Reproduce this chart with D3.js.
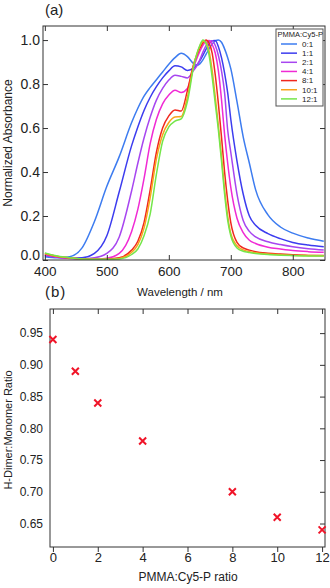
<head>
	<meta charset="utf-8">
	<title>Cy5-P absorbance</title>
	<script src="https://d3js.org/d3.v7.min.js"></script>
	<style>
		body { margin: 0; background: #fff; }
		text { font-family: "Liberation Sans", Arial, sans-serif; fill: #222; }
	</style>
</head>
<body>
	<script type="text/javascript">
	// panel (a): normalized absorbance spectra
	var wavelengths = [400,420,440,460,480,500,520,540,550,560,570,580,590,600,610,620,630,640,645,650,655,660,665,670,675,680,685,690,695,700,710,720,730,740,760,780,800,825,850];

	var abs_0_1  = [0.015,0.010,0.015,0.055,0.175,0.335,0.47,0.625,0.69,0.745,0.785,0.82,0.855,0.89,0.92,0.94,0.925,0.893,0.886,0.892,0.91,0.935,0.96,0.982,0.996,1.0,0.99,0.96,0.92,0.87,0.72,0.56,0.44,0.32,0.205,0.15,0.122,0.1,0.085];
	var abs_1_1  = [0.02,0.012,0.008,0.01,0.03,0.11,0.31,0.52,0.605,0.68,0.74,0.788,0.828,0.86,0.883,0.878,0.862,0.872,0.886,0.905,0.93,0.958,0.982,0.997,0.998,0.97,0.92,0.85,0.76,0.64,0.45,0.3,0.2,0.158,0.12,0.097,0.08,0.068,0.06];
	var abs_2_1  = [0.022,0.012,0.007,0.005,0.01,0.03,0.105,0.315,0.44,0.555,0.65,0.727,0.78,0.818,0.84,0.835,0.828,0.862,0.882,0.91,0.945,0.975,0.995,0.997,0.975,0.93,0.86,0.76,0.59,0.49,0.3,0.18,0.13,0.105,0.083,0.07,0.06,0.051,0.045];
	var abs_4_1  = [0.025,0.014,0.008,0.005,0.004,0.008,0.03,0.13,0.23,0.37,0.53,0.64,0.71,0.75,0.772,0.762,0.78,0.875,0.915,0.948,0.976,0.995,0.998,0.98,0.94,0.86,0.73,0.57,0.44,0.33,0.19,0.125,0.09,0.075,0.058,0.05,0.043,0.038,0.035];
	var abs_8_1  = [0.028,0.016,0.009,0.005,0.003,0.004,0.01,0.045,0.085,0.17,0.32,0.49,0.6,0.655,0.682,0.677,0.77,0.89,0.93,0.962,0.988,1.0,0.985,0.94,0.84,0.71,0.56,0.4,0.27,0.17,0.08,0.055,0.045,0.038,0.031,0.027,0.024,0.021,0.02];
	var abs_10_1 = [0.03,0.017,0.01,0.005,0.003,0.003,0.007,0.035,0.07,0.145,0.285,0.46,0.57,0.625,0.65,0.652,0.74,0.885,0.935,0.972,0.995,0.99,0.95,0.86,0.74,0.61,0.47,0.32,0.2,0.12,0.065,0.046,0.038,0.033,0.027,0.024,0.021,0.02,0.019];
	var abs_12_1 = [0.032,0.018,0.01,0.005,0.003,0.003,0.005,0.025,0.05,0.11,0.21,0.39,0.54,0.605,0.632,0.642,0.72,0.878,0.935,0.975,1.0,0.985,0.93,0.83,0.71,0.59,0.45,0.3,0.18,0.11,0.055,0.04,0.034,0.03,0.025,0.022,0.02,0.018,0.018];

	var series_names = ["0:1","1:1","2:1","4:1","8:1","10:1","12:1"];
	var series_values = [abs_0_1, abs_1_1, abs_2_1, abs_4_1, abs_8_1, abs_10_1, abs_12_1];
	var series_colors = ["#3d7cf0","#3c3cef","#a746f0","#f02ad4","#f0281e","#f8a41c","#74e64a"];

	var x_ticks_a = [400,500,600,700,800];
	var y_ticks_a = [0.0,0.2,0.4,0.6,0.8,1.0];

	// panel (b): H-dimer : monomer ratio
	var pmma_ratio = [0,1,2,4,8,10,12];
	var dimer_ratio = [0.94,0.89,0.84,0.78,0.70,0.66,0.64];
	var x_ticks_b = [0,2,4,6,8,10,12];
	var y_ticks_b = [0.65,0.70,0.75,0.80,0.85,0.90,0.95];

	var w = 330;
	var h = 588;
	var frameColor = "#333";

	var svg = d3.select("body")
		.append("svg")
		.attr("width", w)
		.attr("height", h);

	svg.append("rect").attr("width", w).attr("height", h).attr("fill", "#fff");

	// ---------- panel (a) ----------
	var ax = {left: 43, right: 325, top: 26, bottom: 260};
	var xA = d3.scaleLinear().domain([397, 852]).range([ax.left, ax.right]);
	var yA = d3.scaleLinear().domain([0, 1.064]).range([ax.bottom, ax.top]);

	var gA = svg.append("g");

	var line = d3.line()
		.x(function(d){ return xA(d[0]); })
		.y(function(d){ return yA(d[1]); })
		.curve(d3.curveMonotoneX);

	gA.selectAll("path.spec")
		.data(series_values)
		.enter()
		.append("path")
		.attr("class", "spec")
		.attr("d", function(d){
			return line(d.map(function(v, i){ return [wavelengths[i], v]; }));
		})
		.attr("fill", "none")
		.attr("stroke", function(d, i){ return series_colors[i]; })
		.attr("stroke-width", 1.5);

	function styleAxis(g, fontSize){
		g.select(".domain").remove();
		g.selectAll(".tick line").attr("stroke", frameColor);
		g.selectAll(".tick text")
			.attr("fill", "#222")
			.attr("font-size", fontSize + "px")
			.attr("font-family", "Liberation Sans, Arial, sans-serif");
	}

	gA.append("g")
		.attr("transform", "translate(0," + ax.bottom + ")")
		.call(d3.axisBottom(xA).tickValues(x_ticks_a).tickSizeInner(-5).tickSizeOuter(0).tickPadding(6))
		.call(styleAxis, 13.5);
	gA.append("g")
		.attr("transform", "translate(0," + ax.top + ")")
		.call(d3.axisTop(xA).tickValues(x_ticks_a).tickSizeInner(-5).tickSizeOuter(0).tickFormat(""))
		.call(styleAxis, 14);
	var yAxisA = gA.append("g")
		.attr("transform", "translate(" + ax.left + ",0)")
		.call(d3.axisLeft(yA).tickValues(y_ticks_a).tickSizeInner(-5).tickSizeOuter(0).tickPadding(3).tickFormat(d3.format(".1f")))
		.call(styleAxis, 14);
	// nudge the "0.0" label up so it clears the "400" below it
	yAxisA.selectAll(".tick text")
		.filter(function(d){ return d === 0; })
		.attr("y", -5);
	gA.append("g")
		.attr("transform", "translate(" + ax.right + ",0)")
		.call(d3.axisRight(yA).tickValues(y_ticks_a).tickSizeInner(-5).tickSizeOuter(0).tickFormat(""))
		.call(styleAxis, 14);

	gA.append("rect")
		.attr("x", ax.left).attr("y", ax.top)
		.attr("width", ax.right - ax.left).attr("height", ax.bottom - ax.top)
		.attr("fill", "none").attr("stroke", frameColor).attr("stroke-width", 1);

	gA.append("text").text("(a)")
		.attr("x", 45).attr("y", 15)
		.attr("font-size", "15px");

	gA.append("text").text("Normalized Absorbance")
		.attr("transform", "translate(12," + ((ax.top + ax.bottom) / 2) + ") rotate(-90)")
		.attr("text-anchor", "middle")
		.attr("font-size", "12px");

	gA.append("text").text("Wavelength / nm")
		.attr("x", 180).attr("y", 296)
		.attr("text-anchor", "middle")
		.attr("font-size", "11.5px");

	// legend
	var lg = gA.append("g");
	lg.append("rect")
		.attr("x", 276).attr("y", 29)
		.attr("width", 47).attr("height", 77)
		.attr("fill", "#fff").attr("stroke", "#555").attr("stroke-width", 1);
	lg.append("text").text("PMMA:Cy5-P")
		.attr("x", 277.5).attr("y", 36.5)
		.attr("font-size", "7.5px");
	lg.selectAll("line.key")
		.data(series_names)
		.enter()
		.append("line")
		.attr("x1", 281).attr("x2", 297)
		.attr("y1", function(d, i){ return 44 + i * 9.15; })
		.attr("y2", function(d, i){ return 44 + i * 9.15; })
		.attr("stroke", function(d, i){ return series_colors[i]; })
		.attr("stroke-width", 1.5);
	lg.selectAll("text.key")
		.data(series_names)
		.enter()
		.append("text")
		.text(function(d){ return d; })
		.attr("x", 302)
		.attr("y", function(d, i){ return 44 + i * 9.15 + 2.8; })
		.attr("font-size", "8px");

	// ---------- panel (b) ----------
	var bx = {left: 50, right: 325, top: 309, bottom: 547};
	var xB = d3.scaleLinear().domain([-0.13, 12.13]).range([bx.left, bx.right]);
	var yB = d3.scaleLinear().domain([0.613, 0.988]).range([bx.bottom, bx.top]);

	var gB = svg.append("g");

	gB.append("g")
		.attr("transform", "translate(0," + bx.bottom + ")")
		.call(d3.axisBottom(xB).tickValues(x_ticks_b).tickSizeInner(5).tickSizeOuter(0).tickPadding(1))
		.call(styleAxis, 13);
	gB.append("g")
		.attr("transform", "translate(0," + bx.top + ")")
		.call(d3.axisTop(xB).tickValues(x_ticks_b).tickSizeInner(-5).tickSizeOuter(0).tickFormat(""))
		.call(styleAxis, 13);
	gB.append("g")
		.attr("transform", "translate(" + bx.left + ",0)")
		.call(d3.axisLeft(yB).tickValues(y_ticks_b).tickSize(0).tickPadding(7).tickFormat(d3.format(".2f")))
		.call(styleAxis, 12);
	gB.append("g")
		.attr("transform", "translate(" + bx.right + ",0)")
		.call(d3.axisRight(yB).tickValues(y_ticks_b).tickSizeInner(-5).tickSizeOuter(0).tickFormat(""))
		.call(styleAxis, 12);

	gB.append("rect")
		.attr("x", bx.left).attr("y", bx.top)
		.attr("width", bx.right - bx.left).attr("height", bx.bottom - bx.top)
		.attr("fill", "none").attr("stroke", frameColor).attr("stroke-width", 1);

	var s = 3.5;
	gB.selectAll("path.mark")
		.data(pmma_ratio)
		.enter()
		.append("path")
		.attr("class", "mark")
		.attr("d", function(d, i){
			var cx = xB(d), cy = yB(dimer_ratio[i]);
			return "M" + (cx - s) + "," + (cy - s) + "L" + (cx + s) + "," + (cy + s) +
				"M" + (cx - s) + "," + (cy + s) + "L" + (cx + s) + "," + (cy - s);
		})
		.attr("stroke", "#f01428")
		.attr("stroke-width", 2)
		.attr("fill", "none");

	gB.append("text").text("(b)")
		.attr("x", 45).attr("y", 297)
		.attr("font-size", "15px")
		.attr("letter-spacing", "1px");

	gB.append("text").text("H-Dimer:Monomer Ratio")
		.attr("transform", "translate(12," + 430 + ") rotate(-90)")
		.attr("text-anchor", "middle")
		.attr("font-size", "11px");

	gB.append("text").text("PMMA:Cy5-P ratio")
		.attr("x", 188).attr("y", 581)
		.attr("text-anchor", "middle")
		.attr("font-size", "12px");
	</script>
</body>
